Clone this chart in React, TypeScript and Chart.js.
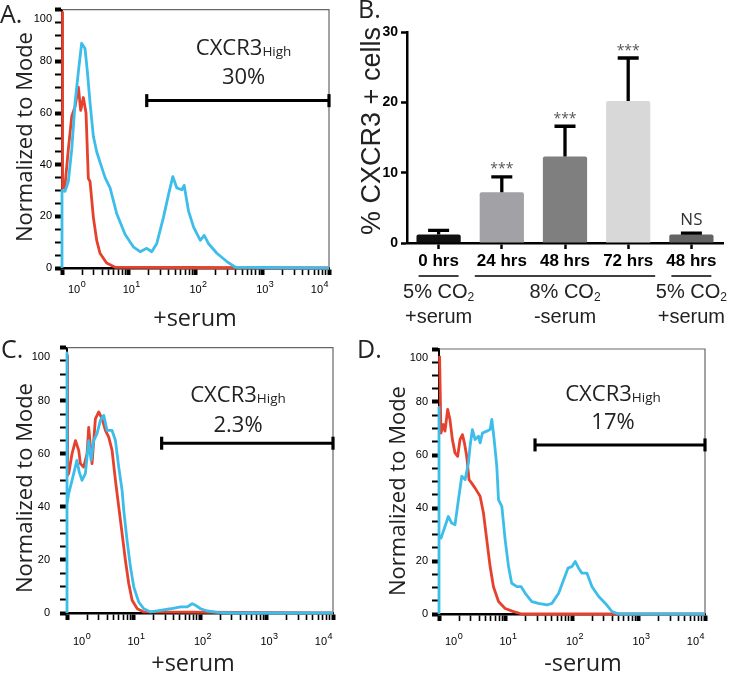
import React, { useEffect, useRef } from "react";
import { Chart, registerables } from "chart.js";

Chart.register(...registerables);

const BLUE = "#3dbde9";
const RED = "#e5412d";
const SANS = "'Open Sans', 'Liberation Sans', sans-serif";
const ARIAL = "'Liberation Sans', Arial, sans-serif";
const TEXT = "#222";

// ---------------- shared axis ticks ----------------
const decadeValues = [1, 10, 100, 1000, 10000];
const decadeExponents = ["0", "1", "2", "3", "4"];
const minorMultipliers = [2, 3, 4, 5, 6, 7, 8, 9];

// ---------------- Panel A (+serum) ----------------
const aBlueX = [1, 1, 1.11, 1.245, 1.4, 1.57, 1.76, 1.97, 2.21, 2.4, 2.63, 2.95, 3.31, 3.71, 4.42, 5.25, 6.61, 8.83, 11.7, 14.8, 18.6, 22.1, 26.3, 33.1, 39.4, 45.7, 52.5, 62.4, 67.6, 78.7, 93.6, 118, 135, 156, 209, 295, 396, 10000];
const aBlueY = [0, 30, 29.7, 33.5, 46, 64, 76, 87, 85, 76, 64, 51, 45, 41, 35, 31, 21, 13, 8.2, 6.3, 7.6, 6.3, 9.5, 19.6, 28.4, 35.4, 31, 30.3, 32, 22, 15.8, 10.7, 12.6, 9.5, 5.7, 2.5, 0.3, 0];
const aRedX = [1.02, 1.02, 1.1, 1.245, 1.4, 1.57, 1.76, 1.905, 2.09, 2.29, 2.48, 2.63, 2.95, 3.31, 3.71, 4.66, 6.24, 10000];
const aRedY = [99, 31, 31, 46, 58.7, 62.5, 70, 61, 66, 60, 34.7, 33.5, 19.6, 10.7, 5.7, 1.9, 0.3, 0];
const aGateX = [18.6, 10000];
const aGateY = [64.8, 64.8];
const aPercent = "30%";

// ---------------- Panel C (+serum) ----------------
const cBlueX = [1, 1, 1, 1.06, 1.19, 1.41, 1.53, 1.68, 1.89, 2.12, 2.3, 2.52, 2.83, 3.18, 3.57, 4.0, 4.76, 5.35, 6.0, 6.74, 7.14, 8.0, 9.0, 10.1, 12.0, 14.3, 18.0, 25.5, 36.1, 51.1, 64.3, 76.2, 86, 102, 129, 183, 324, 10000];
const cBlueY = [0, 98, 41, 45, 50, 57.5, 53.1, 50, 52.5, 65, 57.5, 65, 67.6, 72.6, 74.5, 68.8, 68.8, 65, 55, 46.2, 38.7, 27.4, 17.3, 9.8, 4.1, 1.6, 0.4, 1.0, 1.6, 2.3, 2.3, 3.5, 2.9, 1.6, 0.75, 0.25, 0, 0];
const cRedX = [1.02, 1.02, 1.06, 1.19, 1.34, 1.5, 1.59, 1.78, 2.0, 2.12, 2.38, 2.67, 3.0, 3.37, 3.78, 4.24, 4.76, 5.35, 6.0, 6.74, 7.56, 8.49, 9.53, 11.4, 14.3, 10000];
const cRedY = [97, 52, 52.5, 60, 65, 61.3, 56.3, 55, 60, 70, 56.3, 73.2, 75.8, 73.2, 68.8, 66.3, 61.3, 50, 40, 29.9, 19.8, 11, 4.8, 1.6, 0.4, 0];
const cGateX = [26.5, 10000];
const cGateY = [64, 64];
const cPercent = "2.3%";

// ---------------- Panel D (-serum) ----------------
const dBlueX = [1, 1, 1, 1.07, 1.23, 1.38, 1.55, 1.74, 1.96, 2.2, 2.47, 2.77, 2.93, 3.18, 3.49, 3.92, 4.15, 4.5, 5.23, 5.87, 6.23, 6.75, 7.4, 7.85, 8.81, 9.88, 11.1, 12.4, 14.8, 17.2, 19.8, 24.9, 31.3, 41.8, 49.9, 63.0, 74.9, 87, 100, 112, 126, 141, 168, 200, 252, 318, 401, 505, 10000];
const dBlueY = [0, 78, 28.6, 28.6, 33, 36.8, 34.3, 33.7, 43.1, 52, 50.7, 57, 63.3, 69.6, 65.8, 67.1, 64.6, 68.3, 69, 69.6, 73.4, 65.8, 55.7, 43.1, 40.6, 28, 17.9, 11.6, 10.3, 10.3, 7.8, 4.7, 4, 3.4, 4, 7.8, 12.9, 17.3, 17.9, 19.8, 17.3, 15.4, 15.4, 10.3, 6.6, 4, 0.9, 0, 0];
const dRedX = [1.02, 1.07, 1.16, 1.23, 1.35, 1.46, 1.59, 1.74, 1.91, 2.07, 2.25, 2.41, 2.61, 2.83, 3.1, 3.49, 4.15, 4.66, 5.23, 5.87, 6.59, 7.85, 9.88, 13.2, 17.6, 10000];
const dRedY = [97.4, 68.3, 71.5, 69, 77.2, 73.4, 65.8, 60.8, 59.5, 65.8, 67.7, 64.6, 59.5, 50.7, 49.4, 47.5, 44.4, 38.1, 28, 17.9, 10.3, 4.7, 2.1, 0.9, 0, 0];
const dGateX = [27.8, 10000];
const dGateY = [63.8, 63.8];
const dPercent = "17%";

// ---------------- Panel B (bar chart) ----------------
const barCategories = ["0 hrs", "24 hrs", "48 hrs", "72 hrs", "48 hrs"];
const barMeans = [1.2, 7.2, 12.3, 20.2, 1.2];
const barErrors = [0.6, 2.2, 4.3, 6.1, 0.2];
const barSignificance = ["", "***", "***", "***", "NS"];
const barColors = ["#111111", "#a1a1a6", "#7f7f7f", "#d8d8d8", "#636363"];
const yTicksB = [0, 10, 20, 30];
const groupStart = [0, 1, 4];
const groupEnd = [0, 3, 4];
const groupGas = ["5% CO₂", "8% CO₂", "5% CO₂"];
const groupSerum = ["+serum", "-serum", "+serum"];

// ---------------- helpers ----------------
function drawWithSub(ctx: CanvasRenderingContext2D, main: string, sub: string, cx: number, baseline: number, mainFont: string, subFont: string, subDy: number) {
  ctx.font = mainFont;
  const w1 = ctx.measureText(main).width;
  ctx.font = subFont;
  const w2 = ctx.measureText(sub).width;
  const x0 = cx - (w1 + w2) / 2;
  ctx.textAlign = "left";
  ctx.textBaseline = "alphabetic";
  ctx.font = mainFont;
  ctx.fillText(main, x0, baseline);
  ctx.font = subFont;
  ctx.fillText(sub, x0 + w1, baseline + subDy);
}

type HistLayout = {
  W: number; H: number; left: number; top: number; right: number; bottom: number;
  tickPad: number; yTitleX: number; yTitleCY: number; xTitleCX: number; xTitleY: number;
  decadeBase: number; letterX: number; letterY: number;
  annX: number; annY1: number; annY2: number;
};

type HistPanel = {
  letter: string; xTitle: string; percent: string;
  blueX: number[]; blueY: number[]; redX: number[]; redY: number[];
  gateX: number[]; gateY: number[];
  layout: HistLayout;
};

const panels: Record<string, HistPanel> = {
  A: {
    letter: "A.", xTitle: "+serum", percent: aPercent,
    blueX: aBlueX, blueY: aBlueY, redX: aRedX, redY: aRedY, gateX: aGateX, gateY: aGateY,
    layout: { W: 357, H: 338, left: 62, top: 4, right: 329, bottom: 268, tickPad: 3, yTitleX: 32, yTitleCY: 137, xTitleCX: 195, xTitleY: 326, decadeBase: 293, letterX: 0, letterY: 23, annX: 525, annY1: 82.6, annY2: 71.2 },
  },
  C: {
    letter: "C.", xTitle: "+serum", percent: cPercent,
    blueX: cBlueX, blueY: cBlueY, redX: cRedX, redY: cRedY, gateX: cGateX, gateY: cGateY,
    layout: { W: 355, H: 335, left: 67, top: 9, right: 333, bottom: 275, tickPad: 10, yTitleX: 32, yTitleCY: 150, xTitleCX: 193, xTitleY: 333, decadeBase: 307, letterX: 1, letterY: 20, annX: 373, annY1: 79.4, annY2: 68.2 },
  },
  D: {
    letter: "D.", xTitle: "-serum", percent: dPercent,
    blueX: dBlueX, blueY: dBlueY, redX: dRedX, redY: dRedY, gateX: dGateX, gateY: dGateY,
    layout: { W: 376, H: 335, left: 84, top: 11, right: 350, bottom: 276, tickPad: 4, yTitleX: 50, yTitleCY: 153, xTitleCX: 228, xTitleY: 333, decadeBase: 307, letterX: 2, letterY: 20, annX: 414, annY1: 80.4, annY2: 69.7 },
  },
};

const logTickValues = decadeValues.flatMap((d, i) =>
  i === decadeValues.length - 1 ? [d] : [d, ...minorMultipliers.map((m) => d * m)]
);

function histDecor(p: HistPanel) {
  const L = p.layout;
  return {
    id: "histDecor",
    beforeDatasetsDraw(chart: any) {
      const { ctx, chartArea: a } = chart;
      ctx.save();
      ctx.strokeStyle = "#666";
      ctx.lineWidth = 1.2;
      ctx.beginPath();
      ctx.moveTo(a.left, a.top);
      ctx.lineTo(a.right, a.top);
      ctx.lineTo(a.right, a.bottom);
      ctx.stroke();
      ctx.restore();
    },
    afterDraw(chart: any) {
      const { ctx, scales } = chart;
      const x = scales.x;
      const y = scales.y;
      ctx.save();
      ctx.fillStyle = "#000";
      const n = decadeValues.length;
      decadeValues.forEach((v, i) => {
        const px = x.getPixelForValue(v);
        ctx.font = `11px ${ARIAL}`;
        const wb = ctx.measureText("10").width;
        ctx.font = `9px ${ARIAL}`;
        const we = ctx.measureText(decadeExponents[i]).width;
        let left = px - wb / 2;
        if (i === 0) left = px + 6;
        else if (i === n - 1) left = px - wb - we - 1;
        ctx.textAlign = "left";
        ctx.textBaseline = "alphabetic";
        ctx.font = `11px ${ARIAL}`;
        ctx.fillText("10", left, L.decadeBase);
        ctx.font = `9px ${ARIAL}`;
        ctx.fillText(decadeExponents[i], left + wb + 0.5, L.decadeBase - 6);
      });
      ctx.fillStyle = TEXT;
      ctx.save();
      ctx.translate(L.yTitleX, L.yTitleCY);
      ctx.rotate(-Math.PI / 2);
      ctx.textAlign = "center";
      ctx.textBaseline = "alphabetic";
      ctx.font = `22px ${SANS}`;
      ctx.fillText("Normalized to Mode", 0, 0);
      ctx.restore();
      ctx.textAlign = "center";
      ctx.textBaseline = "alphabetic";
      ctx.font = `23.5px ${SANS}`;
      ctx.fillText(p.xTitle, L.xTitleCX, L.xTitleY);
      const cx = x.getPixelForValue(L.annX);
      drawWithSub(ctx, "CXCR3", "High", cx, y.getPixelForValue(L.annY1), `22px ${SANS}`, `13.5px ${SANS}`, 1);
      ctx.textAlign = "center";
      ctx.font = `22px ${SANS}`;
      ctx.fillText(p.percent, cx, y.getPixelForValue(L.annY2));
      ctx.textAlign = "left";
      ctx.font = `25px ${SANS}`;
      ctx.fillText(p.letter, L.letterX, L.letterY);
      ctx.restore();
    },
  };
}

function makeHistogram(canvas: HTMLCanvasElement, p: HistPanel) {
  const L = p.layout;
  const pts = (xs: number[], ys: number[]) => xs.map((xv, i) => ({ x: xv, y: ys[i] }));
  return new Chart(canvas, {
    type: "line",
    data: {
      datasets: [
        {
          data: pts(p.gateX, p.gateY), borderColor: "#000", borderWidth: 3,
          pointStyle: "line", pointRotation: 90, pointRadius: 6.5, pointBorderWidth: 3.2,
          pointBorderColor: "#000", pointBackgroundColor: "#000", clip: false,
        } as any,
        { data: pts(p.blueX, p.blueY), borderColor: BLUE, borderWidth: 2.8, pointRadius: 0, borderJoinStyle: "round", clip: false } as any,
        { data: pts(p.redX, p.redY), borderColor: RED, borderWidth: 2.8, pointRadius: 0, borderJoinStyle: "round", clip: false } as any,
      ],
    },
    options: {
      animation: false,
      responsive: false,
      events: [],
      layout: { padding: { left: 0, top: L.top, right: L.W - L.right, bottom: 0 } },
      plugins: { legend: { display: false }, tooltip: { enabled: false } },
      scales: {
        x: {
          type: "logarithmic", min: 1, max: 10000,
          afterBuildTicks: (s: any) => { s.ticks = logTickValues.map((v) => ({ value: v, major: decadeValues.includes(v) })); },
          afterFit: (s: any) => { s.height = L.H - L.bottom; s.paddingLeft = 0; s.paddingRight = 0; },
          ticks: { display: false },
          grid: {
            drawOnChartArea: false, tickLength: 7, tickColor: "#000",
            tickWidth: (c: any) => (c.tick && decadeValues.includes(c.tick.value) ? 4 : 1.6),
          },
          border: { color: "#000", width: 2.5 },
        },
        y: {
          type: "linear", min: 0, max: 100,
          afterFit: (s: any) => { s.width = L.left; s.paddingTop = 0; s.paddingBottom = 0; },
          ticks: {
            stepSize: 5, autoSkip: false, padding: L.tickPad, color: "#000",
            font: { family: ARIAL, size: 11, lineHeight: 1.6 },
            callback: (v: any) => (v === 100 ? ["", "100"] : v % 20 === 0 ? String(v) : ""),
          },
          grid: {
            drawOnChartArea: false, tickLength: 7, tickColor: "#000",
            tickWidth: (c: any) => (c.tick && c.tick.value % 20 === 0 ? 4 : 2),
          },
          border: { color: "#000", width: 2 },
        },
      },
    } as any,
    plugins: [histDecor(p)],
  });
}

const B = { W: 374, H: 338, left: 50, top: 32, right: 366, bottom: 243 };

const barDecor = {
  id: "barDecor",
  afterDatasetsDraw(chart: any) {
    const { ctx, scales } = chart;
    const y = scales.y;
    const meta = chart.getDatasetMeta(0);
    ctx.save();
    meta.data.forEach((bar: any, i: number) => {
      const top = y.getPixelForValue(barMeans[i] + barErrors[i]);
      const base = y.getPixelForValue(barMeans[i]);
      ctx.strokeStyle = "#000";
      ctx.lineWidth = 3.3;
      ctx.beginPath();
      ctx.moveTo(bar.x, base);
      ctx.lineTo(bar.x, top);
      ctx.moveTo(bar.x - 10.5, top);
      ctx.lineTo(bar.x + 10.5, top);
      ctx.stroke();
      const s = barSignificance[i];
      if (s) {
        ctx.textAlign = "center";
        ctx.textBaseline = "alphabetic";
        if (s === "NS") {
          ctx.fillStyle = "#333";
          ctx.font = `17px ${SANS}`;
          ctx.fillText(s, bar.x, top - 8);
        } else {
          ctx.fillStyle = "#555";
          ctx.font = `14px ${SANS}`;
          ctx.fillText(s, bar.x, top - 3.5);
        }
      }
    });
    ctx.restore();
  },
  afterDraw(chart: any) {
    const { ctx, scales, chartArea: a } = chart;
    const x = scales.x;
    ctx.save();
    ctx.fillStyle = TEXT;
    ctx.strokeStyle = "#000";
    ctx.lineWidth = 1.5;
    groupStart.forEach((g0, g) => {
      const g1 = groupEnd[g];
      const pad = g0 === g1 ? 20 : 27;
      const x1 = x.getPixelForValue(g0) - pad;
      const x2 = x.getPixelForValue(g1) + pad;
      const ly = a.bottom + 33;
      ctx.beginPath();
      ctx.moveTo(x1, ly);
      ctx.lineTo(x2, ly);
      ctx.stroke();
      const cx = (x1 + x2) / 2;
      const main = groupGas[g].replace("₂", "");
      drawWithSub(ctx, main, "2", cx, a.bottom + 55, `20px ${ARIAL}`, `12px ${ARIAL}`, 3);
      ctx.textAlign = "center";
      ctx.font = `20px ${ARIAL}`;
      ctx.fillText(groupSerum[g], cx, a.bottom + 80);
    });
    ctx.save();
    ctx.translate(23, 131);
    ctx.rotate(-Math.PI / 2);
    ctx.textAlign = "center";
    ctx.textBaseline = "alphabetic";
    ctx.font = `27px ${ARIAL}`;
    ctx.fillText("% CXCR3 + cells", 0, 0);
    ctx.restore();
    ctx.textAlign = "left";
    ctx.font = `25px ${SANS}`;
    ctx.fillText("B.", 1, 18);
    ctx.restore();
  },
};

function makeBar(canvas: HTMLCanvasElement) {
  return new Chart(canvas, {
    type: "bar",
    data: {
      labels: barCategories,
      datasets: [
        {
          data: barMeans, backgroundColor: barColors, borderRadius: 2, borderSkipped: "bottom",
          categoryPercentage: 0.7, barPercentage: 1,
        } as any,
      ],
    },
    options: {
      animation: false,
      responsive: false,
      events: [],
      layout: { padding: { left: 0, top: B.top, right: B.W - B.right, bottom: 0 } },
      plugins: { legend: { display: false }, tooltip: { enabled: false } },
      scales: {
        x: {
          afterFit: (s: any) => { s.height = B.H - B.bottom; s.paddingLeft = 0; s.paddingRight = 0; },
          grid: { offset: false, drawOnChartArea: false, tickLength: 6, tickWidth: 2.5, tickColor: "#000" },
          border: { color: "#000", width: 2.5 },
          ticks: { color: "#000", font: { family: ARIAL, size: 17, weight: "bold" }, padding: 2, autoSkip: false, maxRotation: 0 },
        },
        y: {
          min: 0, max: 30,
          afterBuildTicks: (s: any) => { s.ticks = yTicksB.map((v) => ({ value: v })); },
          afterFit: (s: any) => { s.width = B.left; s.paddingTop = 0; s.paddingBottom = 0; },
          ticks: { color: "#000", font: { family: ARIAL, size: 14, weight: "bold" }, padding: 3 },
          grid: { drawOnChartArea: false, tickLength: 6, tickWidth: 2.5, tickColor: "#000" },
          border: { color: "#000", width: 2.5 },
        },
      },
    } as any,
    plugins: [barDecor],
  });
}

export default function App() {
  const refA = useRef<HTMLCanvasElement>(null);
  const refB = useRef<HTMLCanvasElement>(null);
  const refC = useRef<HTMLCanvasElement>(null);
  const refD = useRef<HTMLCanvasElement>(null);

  useEffect(() => {
    const charts = [
      makeHistogram(refA.current!, panels.A),
      makeBar(refB.current!),
      makeHistogram(refC.current!, panels.C),
      makeHistogram(refD.current!, panels.D),
    ];
    return () => charts.forEach((c) => c.destroy());
  }, []);

  const pos = (left: number, top: number): React.CSSProperties => ({ position: "absolute", left, top });

  return (
    <div style={{ position: "absolute", left: 0, top: 0, width: 731, height: 673, overflow: "hidden", background: "#fff" }}>
      <canvas ref={refA} width={panels.A.layout.W} height={panels.A.layout.H} style={pos(0, 0)} />
      <canvas ref={refB} width={B.W} height={B.H} style={pos(357, 0)} />
      <canvas ref={refC} width={panels.C.layout.W} height={panels.C.layout.H} style={pos(0, 338)} />
      <canvas ref={refD} width={panels.D.layout.W} height={panels.D.layout.H} style={pos(355, 338)} />
    </div>
  );
}
